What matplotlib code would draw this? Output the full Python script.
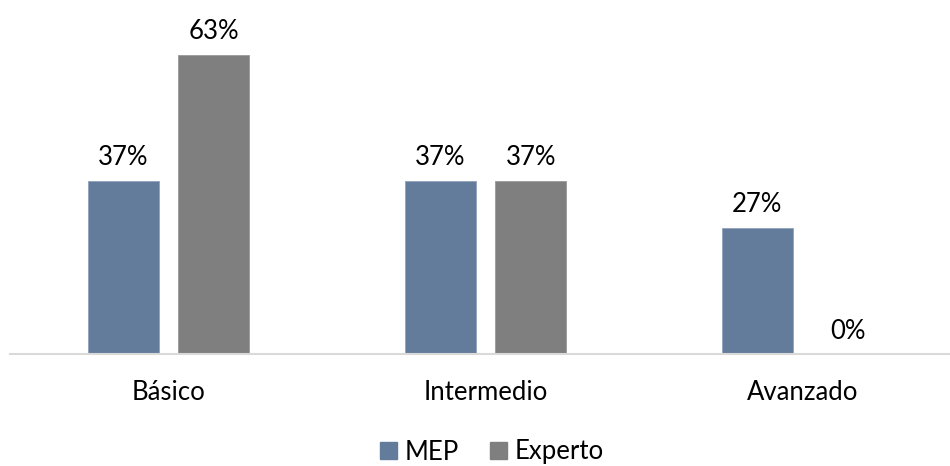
import matplotlib.pyplot as plt
import numpy as np
from matplotlib.patches import Patch

plt.rcParams['font.family'] = ['Lato', 'DejaVu Sans']

# share of respondents per level (11/30, 19/30, 8/30 ...)
niveles = ['Básico', 'Intermedio', 'Avanzado']
mep = [36.67, 36.67, 26.67]
experto = [63.33, 36.67, 0.0]

col_mep = '#637C9B'
col_exp = '#7F7F7F'

fig = plt.figure(figsize=(9.5, 4.66), dpi=100)
# axes run slightly past the right edge so the baseline reaches it
ax = fig.add_axes([10 / 950, 112 / 466, 951 / 950, 331 / 466])

x = np.arange(len(niveles))
w = 0.224
off = 0.1435
b1 = ax.bar(x - off, mep, w, color=col_mep, edgecolor='#8FA3BC', linewidth=0.6)
b2 = ax.bar(x + off, experto, w, color=col_exp, edgecolor='#9A9A9A', linewidth=0.6)

for bars, vals in [(b1, mep), (b2, experto)]:
    for r, v in zip(bars, vals):
        ax.annotate(f'{v:.0f}%', (r.get_x() + r.get_width() / 2, v),
                    xytext=(0, 7.5), textcoords='offset points',
                    ha='center', va='bottom', fontsize=18.5, color='black')

ax.set_xlim(-0.5, 2.5)
ax.set_ylim(0, 70)
ax.set_yticks([])
ax.set_xticks(x)
ax.set_xticklabels(niveles, fontsize=18.5)
ax.tick_params(axis='x', length=0, pad=19)
for s in ['top', 'right', 'left']:
    ax.spines[s].set_visible(False)
ax.spines['bottom'].set_color('#D9D9D9')
ax.spines['bottom'].set_linewidth(1.5)

handles = [Patch(color=col_mep, label='MEP'), Patch(color=col_exp, label='Experto')]
fig.legend(handles=handles, loc='center', bbox_to_anchor=(492 / 950, 1 - 452 / 466),
           ncol=2, frameon=False, fontsize=18.5, handlelength=0.65, handleheight=0.65,
           handletextpad=0.3, columnspacing=1.2)

fig.savefig('out.png', dpi=100)
